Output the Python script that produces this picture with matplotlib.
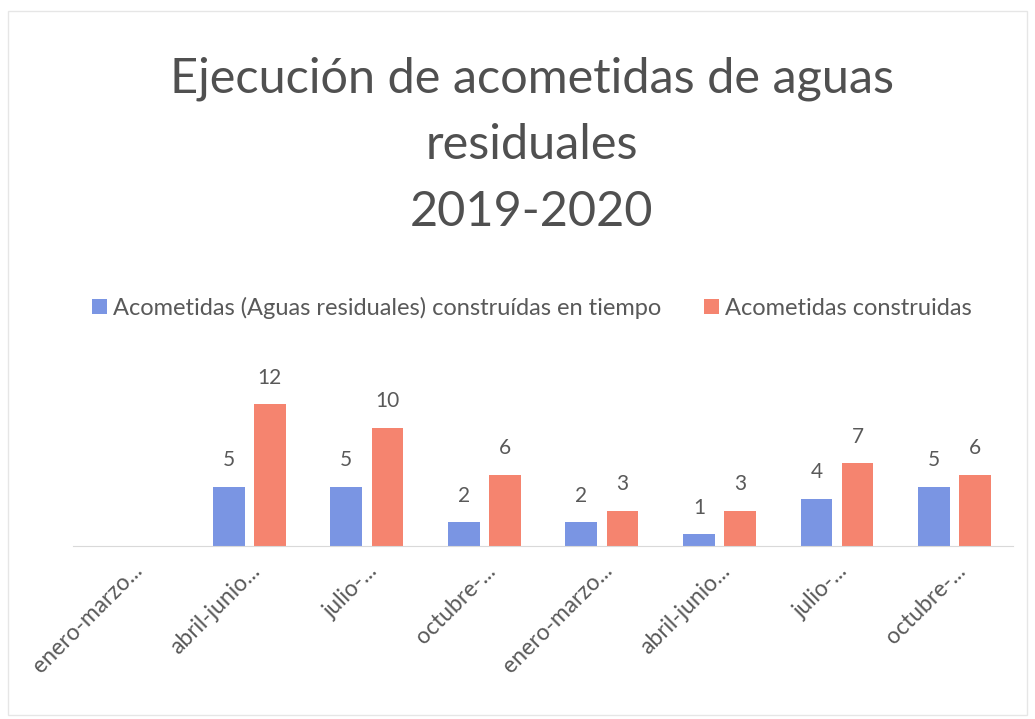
import numpy as np
import matplotlib
matplotlib.use('Agg')
import matplotlib.pyplot as plt

# Data
categories = ['enero-marzo...', 'abril-junio...', 'julio-...', 'octubre-...',
              'enero-marzo...', 'abril-junio...', 'julio-...', 'octubre-...']
en_tiempo = [np.nan, 5, 5, 2, 2, 1, 4, 5]
construidas = [np.nan, 12, 10, 6, 3, 3, 7, 6]
series_names = ['Acometidas (Aguas residuales) construídas en tiempo',
                'Acometidas construidas']

blue = '#7a95e3'
red = '#f5846f'
grey = '#595959'

plt.rcParams['font.family'] = ['Lato', 'DejaVu Sans']

fig = plt.figure(figsize=(10.35, 7.19), dpi=100)
ax = fig.add_axes([0.0705, 0.2406, 0.9085, 0.23])

x = np.arange(len(categories))
w = 0.27
gap = 0.04
b1 = ax.bar(x - w / 2 - gap, en_tiempo, w, color=blue, label=series_names[0])
b2 = ax.bar(x + w / 2 + gap, construidas, w, color=red, label=series_names[1])

for bars, vals in [(b1, en_tiempo), (b2, construidas)]:
    for rect, v in zip(bars, vals):
        if np.isnan(v):
            continue
        ax.annotate(f'{v:g}', (rect.get_x() + rect.get_width() / 2, v),
                    xytext=(0, 12), textcoords='offset points',
                    ha='center', va='bottom', fontsize=15, color=grey)

ax.set_xlim(-0.5, len(categories) - 0.5)
ax.set_ylim(0, 14)
ax.set_yticks([])
for s in ['top', 'right', 'left']:
    ax.spines[s].set_visible(False)
ax.spines['bottom'].set_color('#d9d9d9')

ax.set_xticks(x)
ax.set_xticklabels(categories, rotation=45, ha='right', rotation_mode='anchor',
                   fontsize=16.5, color=grey)
ax.tick_params(axis='x', length=0, pad=10)

fig.text(0.514, 0.798, 'Ejecución de acometidas de aguas\nresiduales\n2019-2020',
         ha='center', va='center', fontsize=35, color='#505050', linespacing=1.62)

fig.legend(loc='center', bbox_to_anchor=(0.514, 0.572), ncol=2, frameon=False,
           fontsize=17, labelcolor=grey, handlelength=0.65, handleheight=0.65,
           handletextpad=0.25, columnspacing=1.8)

fig.patches.append(plt.Rectangle((0.008, 0.005), 0.984, 0.98, transform=fig.transFigure,
                                 fill=False, edgecolor='#e6e6e6', linewidth=1))

fig.savefig('out.png', dpi=100)
